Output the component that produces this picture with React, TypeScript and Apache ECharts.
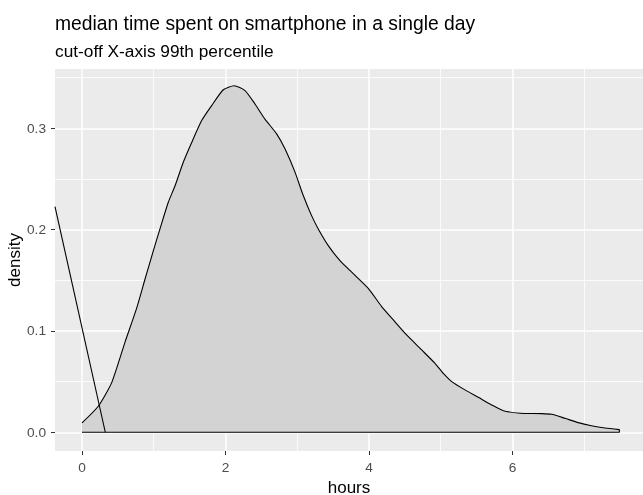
import React, { useEffect, useRef } from "react";
import * as echarts from "echarts";

// density curve
const hours = [
  0, 0.227, 0.414, 0.6, 0.76, 0.878, 0.994, 1.087, 1.203, 1.296, 1.412, 1.529,
  1.668, 1.807, 1.97, 2.12, 2.272, 2.411, 2.55, 2.713, 2.829, 2.969, 3.084, 3.2,
  3.293, 3.433, 3.596, 3.759, 3.99, 4.177, 4.362, 4.525, 4.735, 4.92, 5.036,
  5.153, 5.338, 5.523, 5.71, 5.872, 6.104, 6.407, 6.546, 6.73, 6.917, 7.1, 7.29,
  7.49,
];
const density = [
  0.0092, 0.0257, 0.049, 0.089, 0.122, 0.151, 0.179, 0.2007, 0.227, 0.243,
  0.2665, 0.286, 0.3076, 0.3224, 0.338, 0.342, 0.3372, 0.324, 0.309, 0.2945,
  0.2797, 0.2567, 0.2336, 0.2138, 0.2007, 0.1842, 0.1694, 0.158, 0.142, 0.124,
  0.109, 0.096, 0.0812, 0.068, 0.058, 0.05, 0.0418, 0.0345, 0.027, 0.0213,
  0.0187, 0.0184, 0.0177, 0.0138, 0.0095, 0.0065, 0.0042, 0.0026,
];
// the straight line crossing the left side
const lineHours = [-0.376, 0.325];
const lineDensity = [0.2227, 0];

const xTicks = [0, 2, 4, 6];
const xMinor = [1, 3, 5, 7];
const yTicks = [0, 0.1, 0.2, 0.3];
const yMinor = [0.05, 0.15, 0.25, 0.35];

const titleText = "median time spent on smartphone in a single day";
const subtitleText = "cut-off X-axis 99th percentile";
const xTitle = "hours";
const yTitle = "density";

const X_MIN = -0.376;
const X_MAX = 7.819;
const Y_MIN = -0.0185;
const Y_MAX = 0.3585;

const FONT = "'Liberation Sans', Arial, Helvetica, sans-serif";

export default function App() {
  const ref = useRef<HTMLDivElement>(null);

  useEffect(() => {
    if (!ref.current) return;
    const chart = echarts.init(ref.current, null, { renderer: "svg" });

    const curve = hours.map((h, i) => [h, density[i]]);
    const last = hours.length - 1;
    const outline = [
      [hours[last], density[last]],
      [hours[last], 0],
      [hours[0], 0],
    ];
    const straight = lineHours.map((h, i) => [h, lineDensity[i]]);

    const labelStyle = {
      color: "#4D4D4D",
      fontSize: 13.7,
      fontFamily: FONT,
    };

    chart.setOption({
      animation: false,
      grid: {
        left: 55,
        right: 0,
        top: 69,
        bottom: 44,
        show: true,
        backgroundColor: "#EBEBEB",
        borderWidth: 0,
      },
      xAxis: [
        {
          type: "value",
          min: X_MIN,
          max: X_MAX,
          position: "bottom",
          axisLine: { show: false, onZero: false },
          axisTick: {
            show: true,
            length: 4,
            lineStyle: { color: "#333333", width: 1 },
            customValues: xTicks,
          },
          axisLabel: {
            ...labelStyle,
            margin: 9,
            customValues: xTicks,
            formatter: (v: number) => String(v),
          },
          splitLine: { show: true, lineStyle: { color: "#FFFFFF", width: 1.5 } },
        },
        {
          type: "value",
          min: X_MIN,
          max: X_MAX,
          position: "top",
          axisLine: { show: false, onZero: false },
          axisTick: { show: false, customValues: xMinor },
          axisLabel: { show: false, customValues: xMinor },
          splitLine: { show: true, lineStyle: { color: "#FFFFFF", width: 0.8 } },
        },
      ],
      yAxis: [
        {
          type: "value",
          min: Y_MIN,
          max: Y_MAX,
          position: "left",
          axisLine: { show: false, onZero: false },
          axisTick: {
            show: true,
            length: 4,
            lineStyle: { color: "#333333", width: 1 },
            customValues: yTicks,
          },
          axisLabel: {
            ...labelStyle,
            margin: 9,
            customValues: yTicks,
            formatter: (v: number) => v.toFixed(1),
          },
          splitLine: { show: true, lineStyle: { color: "#FFFFFF", width: 1.5 } },
        },
        {
          type: "value",
          min: Y_MIN,
          max: Y_MAX,
          position: "right",
          axisLine: { show: false, onZero: false },
          axisTick: { show: false, customValues: yMinor },
          axisLabel: { show: false, customValues: yMinor },
          splitLine: { show: true, lineStyle: { color: "#FFFFFF", width: 0.8 } },
        },
      ],
      series: [
        {
          type: "line",
          data: curve,
          showSymbol: false,
          symbol: "none",
          smooth: 0.2,
          lineStyle: { color: "#000000", width: 1.1 },
          areaStyle: { color: "#D3D3D3", opacity: 1 },
          z: 3,
        },
        {
          type: "line",
          data: outline,
          showSymbol: false,
          symbol: "none",
          lineStyle: { color: "#000000", width: 1.1 },
          z: 4,
        },
        {
          type: "line",
          data: straight,
          showSymbol: false,
          symbol: "none",
          lineStyle: { color: "#000000", width: 1.1 },
          z: 5,
        },
      ],
      graphic: [
        {
          type: "text",
          x: 55,
          y: 23.2,
          style: {
            text: titleText,
            fontSize: 19.3,
            fontFamily: FONT,
            fill: "#000000",
            align: "left",
            verticalAlign: "middle",
          },
        },
        {
          type: "text",
          x: 55,
          y: 50.6,
          style: {
            text: subtitleText,
            fontSize: 17.3,
            fontFamily: FONT,
            fill: "#000000",
            align: "left",
            verticalAlign: "middle",
          },
        },
        {
          type: "text",
          x: 349,
          y: 487,
          style: {
            text: xTitle,
            fontSize: 17,
            fontFamily: FONT,
            fill: "#000000",
            align: "center",
            verticalAlign: "middle",
          },
        },
        {
          type: "text",
          x: 14,
          y: 260,
          rotation: Math.PI / 2,
          style: {
            text: yTitle,
            fontSize: 17,
            fontFamily: FONT,
            fill: "#000000",
            align: "center",
            verticalAlign: "middle",
          },
        },
      ],
    });

    return () => chart.dispose();
  }, []);

  return (
    <div
      ref={ref}
      style={{ position: "fixed", left: 0, top: 0, width: 643, height: 495 }}
    />
  );
}
